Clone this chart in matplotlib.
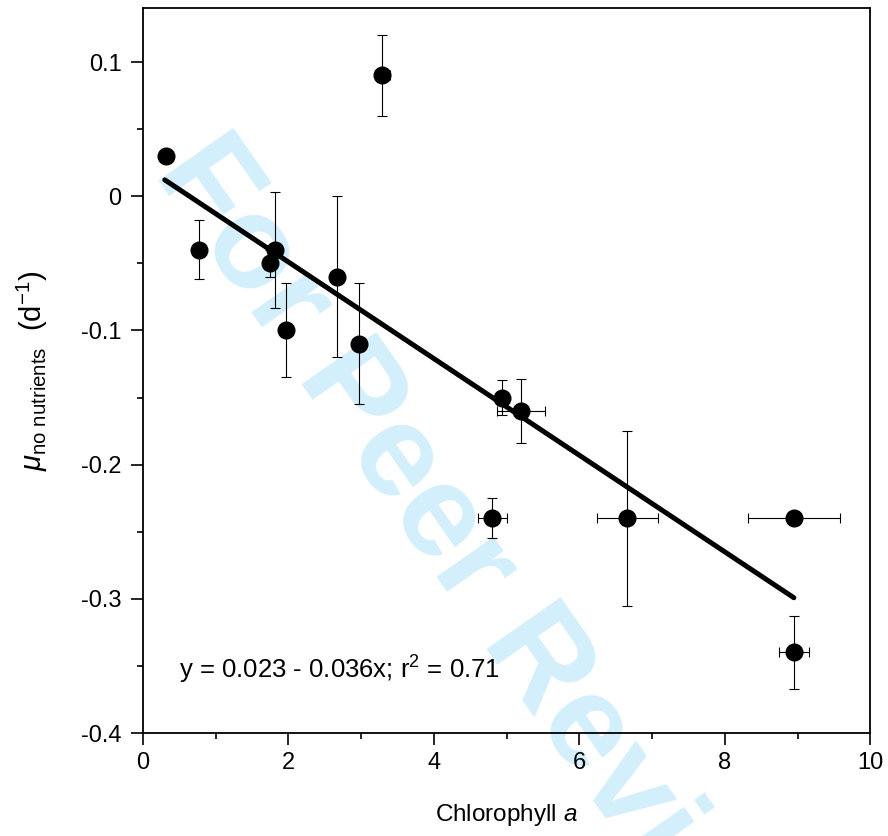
"""
Growth rate without added nutrients vs chlorophyll a, with linear fit.
"""

import numpy as np
import matplotlib
matplotlib.use("Agg")
import matplotlib.pyplot as plt
from matplotlib.ticker import MultipleLocator, FuncFormatter

plt.rcParams['font.family'] = ['Liberation Sans', 'DejaVu Sans']
plt.rcParams['axes.unicode_minus'] = False
plt.rcParams['mathtext.fontset'] = 'custom'
plt.rcParams['mathtext.rm'] = 'Liberation Sans'
plt.rcParams['mathtext.it'] = 'Liberation Sans:italic'

# ── Data ───────────────────────────────────────────────────────
chl = [0.32, 0.77, 1.82, 1.75, 1.97, 2.67, 2.97, 3.29, 4.94, 5.20, 4.80, 6.66, 8.95, 8.95]
mu = [0.03, -0.04, -0.04, -0.05, -0.10, -0.06, -0.11, 0.09, -0.15, -0.16, -0.24, -0.24, -0.24, -0.34]
chl_err = [0.0, 0.0, 0.0, 0.0, 0.0, 0.0, 0.0, 0.10, 0.06, 0.33, 0.20, 0.42, 0.63, 0.21]
mu_err = [0.0, 0.022, 0.043, 0.010, 0.035, 0.060, 0.045, 0.030, 0.013, 0.024, 0.015, 0.065, 0.0, 0.027]

# fit: y = a + b x
fit_a = 0.023
fit_b = -0.036
fit_range = [0.3, 8.95]

fit_label = "y = 0.023 - 0.036x; r$^2$ = 0.71"

# ── Plot ───────────────────────────────────────────────────────
fig = plt.figure(figsize=(8.88, 8.36), dpi=100)
ax = fig.add_axes([0.161, 0.1232, 0.819, 0.8668])
ax.set_facecolor('none')

# watermark behind everything
fig.text(0.536, 0.314, "For Peer Review", fontsize=95, fontweight='bold',
         color='#d4effc', rotation=-55, ha='center', va='center',
         rotation_mode='anchor', zorder=-1)

ax.errorbar(chl, mu, xerr=chl_err, yerr=mu_err, fmt='none', ecolor='black',
            elinewidth=0.8, capsize=3.3, capthick=0.8, zorder=2)
ax.plot(chl, mu, 'o', color='black', markersize=12, zorder=3)

xf = np.array(fit_range)
ax.plot(xf, fit_a + fit_b * xf, color='black', linewidth=3.6,
        solid_capstyle='round', zorder=4)

ax.text(0.5, -0.353, fit_label, fontsize=18.5, va='center', ha='left')

ax.set_xlim(0, 10)
ax.set_ylim(-0.4, 0.14)
ax.xaxis.set_major_locator(MultipleLocator(2))
ax.xaxis.set_minor_locator(MultipleLocator(1))
ax.yaxis.set_major_locator(MultipleLocator(0.1))
ax.yaxis.set_minor_locator(MultipleLocator(0.05))
ax.yaxis.set_major_formatter(FuncFormatter(lambda v, p: f"{v:g}" if abs(v) > 1e-9 else "0"))
ax.xaxis.set_major_formatter(FuncFormatter(lambda v, p: f"{v:g}"))

ax.tick_params(which='major', direction='out', length=8.5, width=1.2, labelsize=17, pad=5)
ax.tick_params(axis='y', which='major', pad=7)
ax.tick_params(which='minor', direction='out', length=4.5, width=1.2)
for s in ax.spines.values():
    s.set_linewidth(1.3)

ax.set_xlabel(r"Chlorophyll $\it{a}$", fontsize=17.5, labelpad=20)
ax.set_ylabel(r"$\mu_{\mathrm{no\ nutrients}}$  (d$^{-1}$)", fontsize=21, labelpad=22)

plt.savefig("out.png", dpi=100)
